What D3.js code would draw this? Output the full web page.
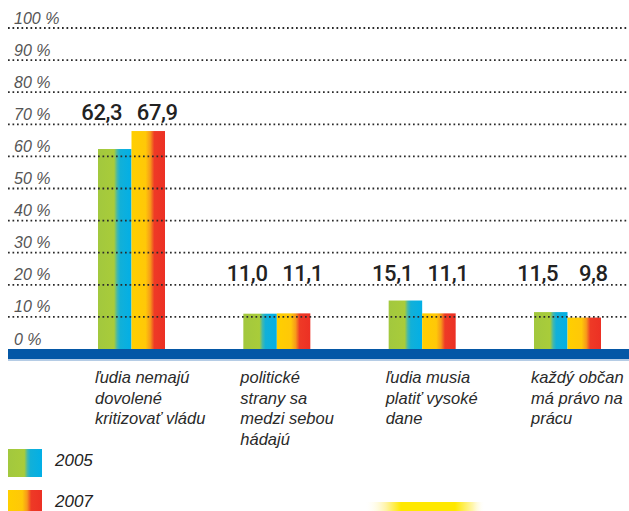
<!DOCTYPE html>
<html>
<head>
<meta charset="utf-8">
<script src="https://cdn.jsdelivr.net/npm/d3@7"></script>
<style>
  html, body { margin: 0; padding: 0; background: #fff; }
  svg { display: block; }
</style>
</head>
<body>
<svg id="chart" width="629" height="511"></svg>
<script>
// ---- data ----
const categories = [
  "ľudia nemajú\ndovolené\nkritizovať vládu",
  "politické\nstrany sa\nmedzi sebou\nhádajú",
  "ľudia musia\nplatiť vysoké\ndane",
  "každý občan\nmá právo na\nprácu"
];
const seriesNames = ["2005", "2007"];
const values2005 = [62.3, 11.0, 15.1, 11.5];
const values2007 = [67.9, 11.1, 11.1, 9.8];
const tickValues = [0, 10, 20, 30, 40, 50, 60, 70, 80, 90, 100];
const tickLabels = ["0 %", "10 %", "20 %", "30 %", "40 %", "50 %", "60 %", "70 %", "80 %", "90 %", "100 %"];
const valueLabels2005 = ["62,3", "11,0", "15,1", "11,5"];
const valueLabels2007 = ["67,9", "11,1", "11,1", "9,8"];

// ---- setup ----
const W = 629, H = 511;
const svg = d3.select("#chart");
const defs = svg.append("defs");

const gradSpecs = {
  "2005": [["0%", "#a2c83e"], ["48%", "#a9cc3a"], ["57%", "#46b8aa"], ["66%", "#12b0d8"], ["100%", "#02afe6"]],
  "2007": [["0%", "#ffcf00"], ["42%", "#ffc808"], ["56%", "#f79a1a"], ["68%", "#ee3a26"], ["100%", "#ec3024"]]
};
Object.entries(gradSpecs).forEach(([k, stops]) => {
  const g = defs.append("linearGradient").attr("id", "g" + k)
    .attr("x1", "0%").attr("x2", "100%").attr("y1", "0%").attr("y2", "0%");
  stops.forEach(([o, c]) => g.append("stop").attr("offset", o).attr("stop-color", c));
});
const glow = defs.append("linearGradient").attr("id", "glow")
  .attr("x1", "0%").attr("x2", "100%").attr("y1", "0%").attr("y2", "0%");
[["0%", "#ffffff", 0], ["18%", "#fff3a0", 1], ["30%", "#ffe800", 1], ["75%", "#ffe800", 1], ["90%", "#fff6b0", 1], ["100%", "#ffffff", 0]]
  .forEach(([o, c, op]) => glow.append("stop").attr("offset", o).attr("stop-color", c).attr("stop-opacity", op));

const y = d3.scaleLinear().domain([0, 100]).range([349, 28]);
const x = d3.scaleBand().domain(categories).range([98, 601]).paddingInner(0.539).paddingOuter(0);
const xs = d3.scaleBand().domain(seriesNames).range([0, x.bandwidth()]).padding(0);

const data = categories.map((c, i) => ({
  cat: c,
  vals: [
    { s: "2005", v: values2005[i], lab: valueLabels2005[i] },
    { s: "2007", v: values2007[i], lab: valueLabels2007[i] }
  ]
}));

// ---- bars ----
const groups = svg.append("g").selectAll("g").data(data).join("g")
  .attr("transform", d => `translate(${x(d.cat)},0)`);
groups.selectAll("rect").data(d => d.vals).join("rect")
  .attr("x", d => xs(d.s))
  .attr("width", xs.bandwidth())
  .attr("y", d => y(d.v))
  .attr("height", d => y(0) - y(d.v))
  .attr("fill", d => `url(#g${d.s})`);

// ---- dotted gridlines (over bars) ----
const gridTicks = tickValues.filter(t => t > 0);
svg.append("g").selectAll("line").data(gridTicks).join("line")
  .attr("x1", 8).attr("x2", W)
  .attr("y1", d => y(d)).attr("y2", d => y(d))
  .attr("stroke", "#2a2a2a")
  .attr("stroke-width", 1.8)
  .attr("stroke-dasharray", "1.7,2.8");

// ---- tick labels ----
svg.append("g").selectAll("text").data(tickValues).join("text")
  .attr("x", 14)
  .attr("y", d => y(d) - 4.5)
  .attr("font-family", "'Liberation Sans', Arial, sans-serif")
  .attr("font-style", "italic")
  .attr("font-size", 16)
  .attr("fill", "#555")
  .text((d, i) => tickLabels[i]);

// ---- baseline ----
svg.append("rect").attr("x", 8).attr("y", y(0)).attr("width", W - 8).attr("height", 10).attr("fill", "#0457a6");
svg.append("line").attr("x1", 8).attr("x2", W).attr("y1", y(0) + 11).attr("y2", y(0) + 11)
  .attr("stroke", "#9dbbdc").attr("stroke-width", 1.5);

// ---- value labels ----
const labelOffset = { "2005": -13, "2007": 9 };
groups.each(function (d) {
  const gmax = d3.max(d.vals, v => v.v);
  const baseY = Math.min(y(gmax) - 11, y(21.2));
  d3.select(this).selectAll("text.val").data(d.vals).join("text")
    .attr("class", "val")
    .attr("x", v => xs(v.s) + xs.bandwidth() / 2 + labelOffset[v.s])
    .attr("y", baseY)
    .attr("text-anchor", "middle")
    .attr("font-family", "Roboto, 'Liberation Sans', sans-serif")
    .attr("font-weight", 500)
    .attr("font-size", 22)
    .attr("letter-spacing", -0.4)
    .attr("fill", "#222")
    .text(v => v.lab);
});

// ---- category labels ----
groups.append("text")
  .attr("font-family", "'Liberation Sans', Arial, sans-serif")
  .attr("font-style", "italic")
  .attr("font-size", 16.5)
  .attr("fill", "#2a2a2a")
  .selectAll("tspan").data(d => d.cat.split("\n")).join("tspan")
  .attr("x", -3)
  .attr("y", (t, i) => 383 + i * 20.5)
  .text(t => t);

// ---- legend ----
const legend = svg.append("g").selectAll("g").data(seriesNames).join("g")
  .attr("transform", (d, i) => `translate(8,${449 + i * 41})`);
legend.append("rect").attr("width", 34).attr("height", 28).attr("fill", d => `url(#g${d})`);
legend.append("text")
  .attr("x", 47).attr("y", 17)
  .attr("font-family", "'Liberation Sans', Arial, sans-serif")
  .attr("font-style", "italic")
  .attr("font-size", 17)
  .attr("fill", "#222")
  .text(d => d);

// ---- decorative glow ----
svg.append("rect").attr("x", 365).attr("y", 502).attr("width", 120).attr("height", 9)
  .attr("fill", "url(#glow)");
</script>
</body>
</html>
